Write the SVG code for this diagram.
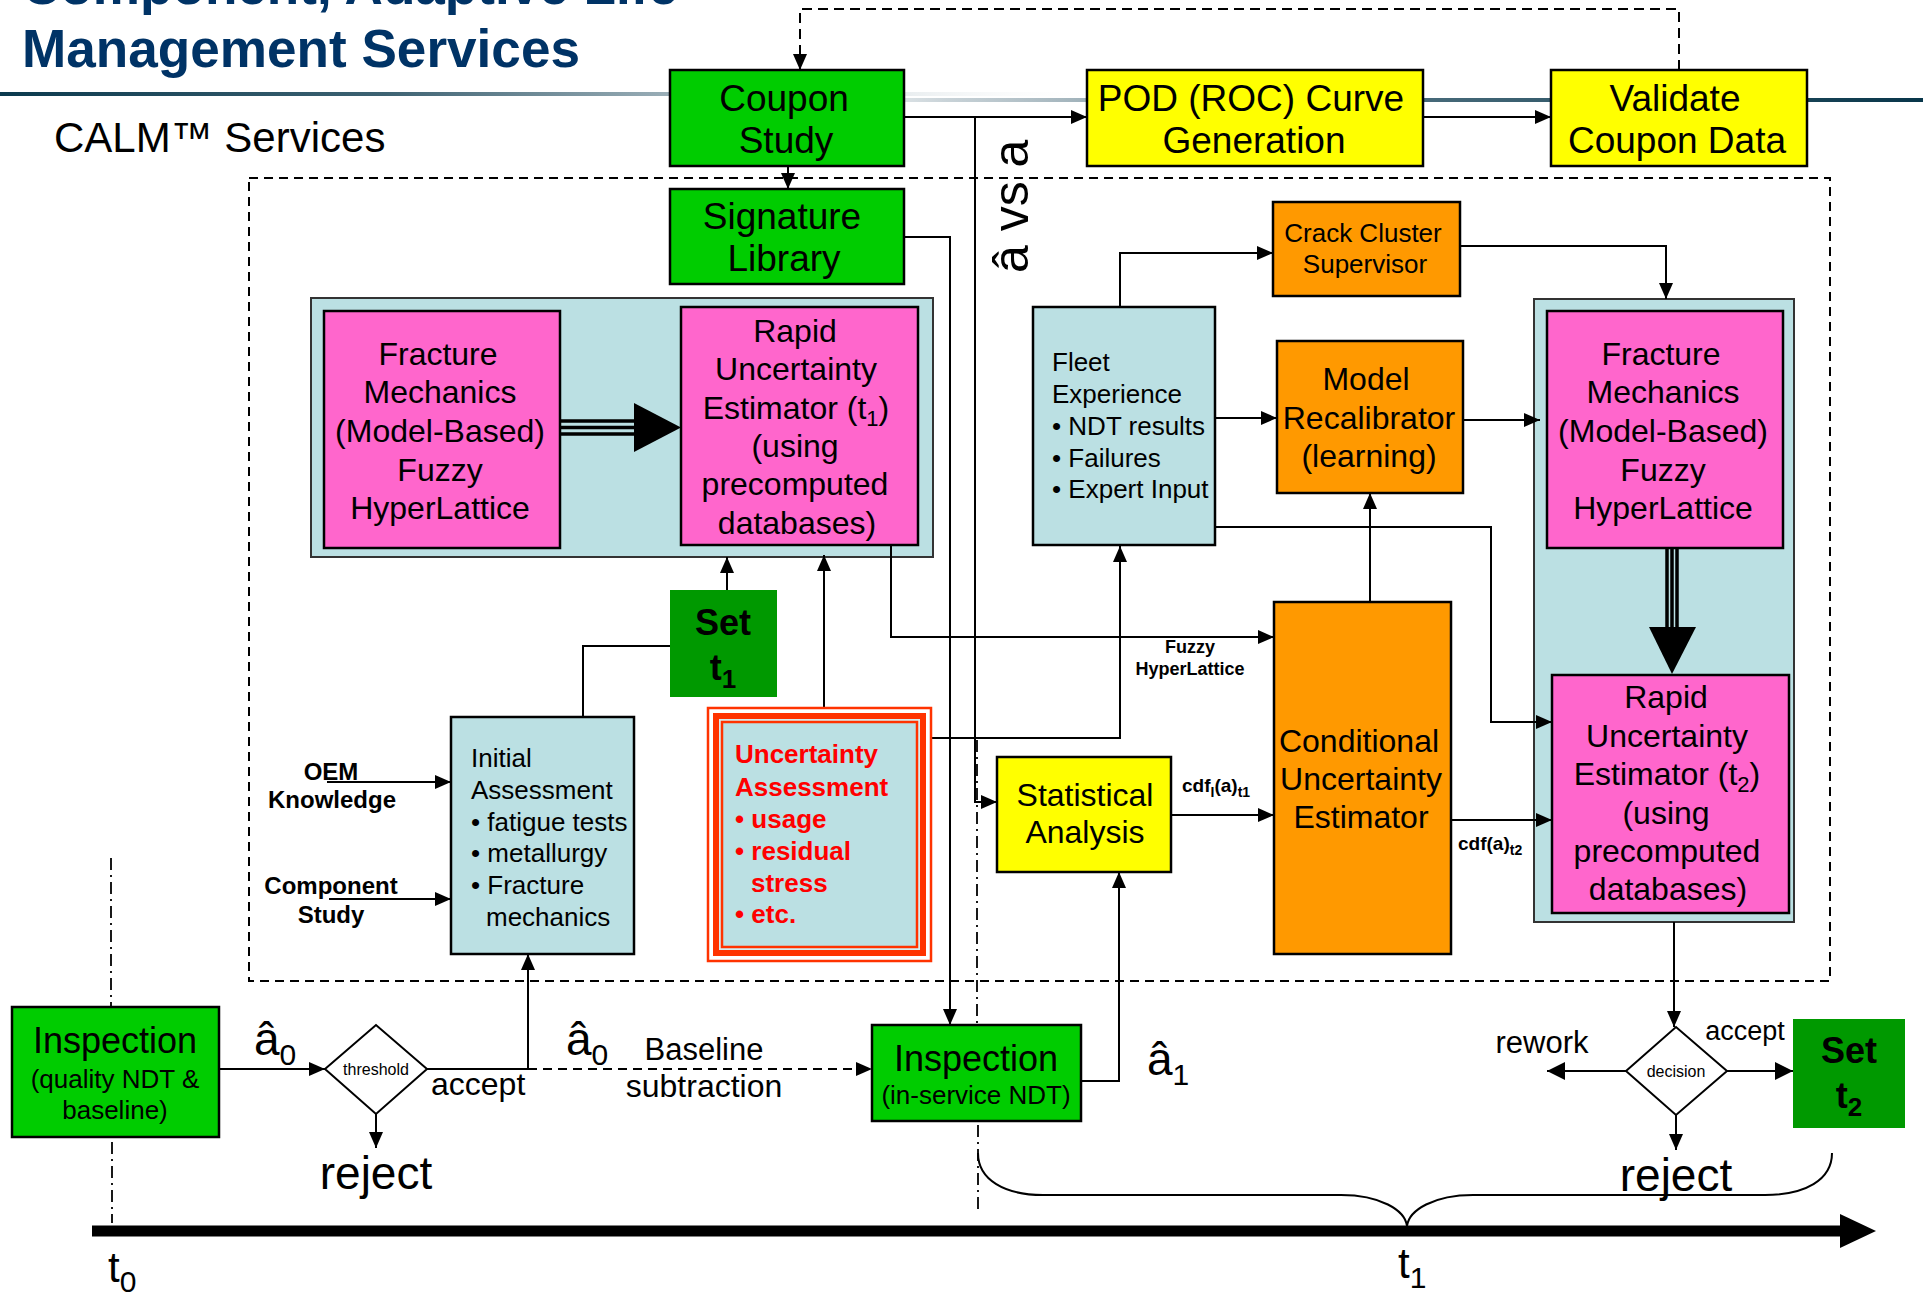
<svg xmlns="http://www.w3.org/2000/svg" width="1923" height="1299" viewBox="0 0 1923 1299">
<defs>
<linearGradient id="ruleA" x1="0" y1="0" x2="1100" y2="0" gradientUnits="userSpaceOnUse">
<stop offset="0" stop-color="#0b3a4e"/>
<stop offset="0.35" stop-color="#3d6272"/>
<stop offset="0.65" stop-color="#a9bac2"/>
<stop offset="1" stop-color="#ffffff" stop-opacity="0"/>
</linearGradient>
<linearGradient id="ruleB" x1="700" y1="0" x2="1923" y2="0" gradientUnits="userSpaceOnUse">
<stop offset="0" stop-color="#ffffff" stop-opacity="0"/>
<stop offset="0.2" stop-color="#c9d3d8"/>
<stop offset="0.55" stop-color="#4d6f7e"/>
<stop offset="1" stop-color="#08364a"/>
</linearGradient>
<marker id="ah" viewBox="0 0 16 14" refX="16" refY="7" markerWidth="16" markerHeight="14" markerUnits="userSpaceOnUse" orient="auto"><path d="M0,0 L16,7 L0,14 z" fill="#000"/></marker>
<marker id="ahb" viewBox="0 0 18 18" refX="18" refY="9" markerWidth="18" markerHeight="18" markerUnits="userSpaceOnUse" orient="auto"><path d="M0,0 L18,9 L0,18 z" fill="#000"/></marker>
</defs>
<style>
text { font-family: "Liberation Sans", Arial, sans-serif; fill: #000; }
.c { text-anchor: middle; }
.b { font-weight: bold; }
.box { stroke: #000; stroke-width: 2.5; }
.green { fill: #00cc00; }
.dgreen { fill: #009900; }
.yellow { fill: #ffff00; }
.orange { fill: #ff9900; }
.pink { fill: #ff66cc; }
.lblue { fill: #bbe0e3; }
.cont { fill: #bbe0e3; stroke: #333; stroke-width: 2; }
.f37 { font-size: 37px; }
.f32 { font-size: 32px; }
.f26 { font-size: 26px; }
.red { fill: #ff0000; font-weight: bold; font-size: 26px; }
.conn { fill: none; stroke: #000; stroke-width: 2; }
.arr { marker-end: url(#ah); }
.dash { stroke-dasharray: 9 6; }
.dashdot { fill: none; stroke: #000; stroke-width: 1.8; stroke-dasharray: 12 5 2 5; }
</style>

<g id="header">
<text x="22" y="4" font-size="54" font-weight="bold" style="fill:#003366" textLength="656" lengthAdjust="spacingAndGlyphs">Component, Adaptive Life</text>
<text x="22" y="67" font-size="54" font-weight="bold" style="fill:#003366" textLength="558" lengthAdjust="spacingAndGlyphs">Management Services</text>
<rect x="0" y="92" width="1100" height="4" fill="url(#ruleA)"/>
<rect x="700" y="98" width="1223" height="4" fill="url(#ruleB)"/>
<text x="54" y="152" font-size="42">CALM™ Services</text>
</g>

<rect id="services-frame" x="249" y="178" width="1581" height="803" fill="none" stroke="#000" stroke-width="2" stroke-dasharray="9 6"/>

<g id="containers">
<rect x="311" y="298" width="622" height="259" class="cont"/>
<rect x="1534" y="299" width="260" height="623" class="cont"/>
</g>

<g id="connectors">
<path class="conn arr" d="M904,117 H1087"/>
<path class="conn arr" d="M1423,117 H1551"/>
<path class="conn arr" d="M1679,70 V9 H800 V70" stroke-dasharray="10 6"/>
<path class="conn arr" d="M788,166 V189"/>
<path class="conn arr" d="M904,237 H950 V1025"/>
<path class="conn arr" d="M975,118 V802 H997"/>
<path class="conn arr" d="M727,590 V557"/>
<path class="conn" d="M583,717 V646 H670"/>
<path class="conn arr" d="M824,709 V555"/>
<path class="conn arr" d="M891,545 V637 H1274"/>
<path class="conn arr" d="M922,738 H1120 V546"/>
<path class="conn arr" d="M1120,307 V253 H1273"/>
<path class="conn arr" d="M1460,246 H1666 V299"/>
<path class="conn arr" d="M1215,418 H1277"/>
<path class="conn arr" d="M1463,420 H1540"/>
<path class="conn arr" d="M1370,602 V493"/>
<path class="conn arr" d="M1213,527 H1491 V722 H1552"/>
<path class="conn arr" d="M1171,815 H1274"/>
<path class="conn arr" d="M1451,820 H1552"/>
<path class="conn arr" d="M1081,1081 H1119 V872"/>
<path class="conn arr" d="M327,782 H451"/>
<path class="conn arr" d="M329,899 H451"/>
<path class="conn arr" d="M219,1069 H325"/>
<path class="conn arr" d="M376,1114 V1148"/>
<path class="conn arr" d="M427,1069 H528 V954"/>
<path class="conn arr dash" d="M528,1069 H872"/>
<path class="conn arr" d="M1674,922 V1027"/>
<path class="conn" stroke-width="3" marker-end="url(#ahb)" d="M1626,1071 H1547"/>
<path class="conn" stroke-width="4" marker-end="url(#ahb)" d="M1727,1071 H1793"/>
<path class="conn arr" d="M1676,1115 V1150"/>
<g id="triple-left">
<path d="M560,421 H640 M560,427.5 H640 M560,434 H640" stroke="#000" stroke-width="3.5" fill="none"/>
<polygon points="634,403 681,427.5 634,452" fill="#000"/>
</g>
<g id="triple-right">
<path d="M1667,548 V632 M1672,548 V632 M1677,548 V632" stroke="#000" stroke-width="3.5" fill="none"/>
<polygon points="1649,627 1672,674 1696,627" fill="#000"/>
</g>
<path d="M92,1231 H1842" stroke="#000" stroke-width="11" fill="none"/>
<polygon points="1840,1214 1876,1231 1840,1248" fill="#000"/>
<path class="dashdot" d="M111,858 V1007 M112,1142 V1223"/>
<path class="dashdot" d="M977,740 V1025 M978,1125 V1210"/>
<path class="conn" d="M978,1153 C978,1180 1005,1195 1043,1195 H1341 C1380,1195 1405,1210 1407,1226 C1409,1210 1434,1195 1473,1195 H1765 C1805,1195 1832,1180 1832,1153"/>
</g>

<g id="coupon-study">
<rect x="670" y="70" width="234" height="96" class="box green"/>
<text x="784" y="111" class="c f37">Coupon</text>
<text x="786" y="153" class="c f37">Study</text>
</g>
<g id="pod-curve">
<rect x="1087" y="70" width="336" height="96" class="box yellow"/>
<text x="1251" y="111" class="c f37">POD (ROC) Curve</text>
<text x="1254" y="153" class="c f37">Generation</text>
</g>
<g id="validate">
<rect x="1551" y="70" width="256" height="96" class="box yellow"/>
<text x="1675" y="111" class="c f37">Validate</text>
<text x="1677" y="153" class="c f37">Coupon Data</text>
</g>
<g id="signature-library">
<rect x="670" y="189" width="234" height="95" class="box green"/>
<text x="782" y="229" class="c f37">Signature</text>
<text x="784" y="271" class="c f37">Library</text>
</g>
<g id="fracture-left">
<rect x="324" y="311" width="236" height="237" class="box pink"/>
<text class="c f32"><tspan x="438" y="365">Fracture</tspan><tspan x="440" y="403">Mechanics</tspan><tspan x="440" y="442">(Model-Based)</tspan><tspan x="440" y="481">Fuzzy</tspan><tspan x="440" y="519">HyperLattice</tspan></text>
</g>
<g id="rapid-t1">
<rect x="681" y="307" width="237" height="238" class="box pink"/>
<text class="c f32"><tspan x="795" y="342">Rapid</tspan><tspan x="796" y="380">Uncertainty</tspan><tspan x="796" y="419">Estimator (t<tspan font-size="22" dy="7">1</tspan><tspan dy="-7">)</tspan></tspan><tspan x="795" y="457">(using</tspan><tspan x="795" y="495">precomputed</tspan><tspan x="797" y="534">databases)</tspan></text>
</g>
<g id="set-t1">
<rect x="670" y="590" width="107" height="107" class="dgreen"/>
<text x="723" y="635" class="c b" font-size="36">Set</text>
<text x="723" y="680" class="c b" font-size="36">t<tspan font-size="26" dy="8">1</tspan></text>
</g>
<g id="initial-assessment">
<rect x="451" y="717" width="183" height="237" class="box lblue"/>
<text class="f26"><tspan x="471" y="767">Initial</tspan><tspan x="471" y="799">Assessment</tspan><tspan x="471" y="831">• fatigue tests</tspan><tspan x="471" y="862">• metallurgy</tspan><tspan x="471" y="894">• Fracture</tspan><tspan x="486" y="926">mechanics</tspan></text>
</g>
<g id="uncertainty-assessment">
<rect x="708" y="708" width="223" height="253" fill="#fff" stroke="#ff3300" stroke-width="2.5"/>
<rect x="713" y="713" width="213" height="243" fill="#ff3300"/>
<rect x="719" y="719" width="201" height="231" fill="#d6eef0"/>
<rect x="722" y="722" width="195" height="225" fill="#bbe0e3" stroke="#ff3300" stroke-width="2.5"/>
<text class="red"><tspan x="735" y="763">Uncertainty</tspan><tspan x="735" y="796">Assessment</tspan><tspan x="735" y="828">• usage</tspan><tspan x="735" y="860">• residual</tspan><tspan x="751" y="892">stress</tspan><tspan x="735" y="923">• etc.</tspan></text>
</g>
<g id="fleet-experience">
<rect x="1033" y="307" width="182" height="238" class="box lblue"/>
<text class="f26"><tspan x="1052" y="371">Fleet</tspan><tspan x="1052" y="403">Experience</tspan><tspan x="1052" y="435">• NDT results</tspan><tspan x="1052" y="467">• Failures</tspan><tspan x="1052" y="498">• Expert Input</tspan></text>
</g>
<g id="crack-cluster">
<rect x="1273" y="202" width="187" height="94" class="box orange"/>
<text x="1363" y="242" class="c f26">Crack Cluster</text>
<text x="1365" y="273" class="c f26">Supervisor</text>
</g>
<g id="model-recalibrator">
<rect x="1277" y="341" width="186" height="152" class="box orange"/>
<text x="1366" y="390" class="c f32">Model</text>
<text x="1369" y="429" class="c f32">Recalibrator</text>
<text x="1369" y="467" class="c f32">(learning)</text>
</g>
<g id="fracture-right">
<rect x="1547" y="311" width="236" height="237" class="box pink"/>
<text class="c f32"><tspan x="1661" y="365">Fracture</tspan><tspan x="1663" y="403">Mechanics</tspan><tspan x="1663" y="442">(Model-Based)</tspan><tspan x="1663" y="481">Fuzzy</tspan><tspan x="1663" y="519">HyperLattice</tspan></text>
</g>
<g id="rapid-t2">
<rect x="1552" y="675" width="237" height="238" class="box pink"/>
<text class="c f32"><tspan x="1666" y="708">Rapid</tspan><tspan x="1667" y="747">Uncertainty</tspan><tspan x="1667" y="785">Estimator (t<tspan font-size="22" dy="7">2</tspan><tspan dy="-7">)</tspan></tspan><tspan x="1666" y="824">(using</tspan><tspan x="1667" y="862">precomputed</tspan><tspan x="1668" y="900">databases)</tspan></text>
</g>
<g id="conditional-estimator">
<rect x="1274" y="602" width="177" height="352" class="box orange"/>
<text x="1359" y="752" class="c f32">Conditional</text>
<text x="1361" y="790" class="c f32">Uncertainty</text>
<text x="1361" y="828" class="c f32">Estimator</text>
</g>
<g id="statistical-analysis">
<rect x="997" y="757" width="174" height="115" class="box yellow"/>
<text x="1085" y="806" class="c f32">Statistical</text>
<text x="1085" y="843" class="c f32">Analysis</text>
</g>
<g id="inspection-quality">
<rect x="12" y="1007" width="207" height="130" class="box green"/>
<text x="115" y="1053" class="c" font-size="36">Inspection</text>
<text x="115" y="1088" class="c f26">(quality NDT &amp;</text>
<text x="115" y="1119" class="c f26">baseline)</text>
</g>
<g id="inspection-inservice">
<rect x="872" y="1025" width="209" height="96" class="box green"/>
<text x="976" y="1071" class="c" font-size="36">Inspection</text>
<text x="976" y="1104" class="c f26">(in-service NDT)</text>
</g>
<g id="threshold">
<polygon points="325,1069 376,1025 427,1069 376,1114" fill="#fff" stroke="#000" stroke-width="2"/>
<text x="376" y="1075" class="c" font-size="16">threshold</text>
</g>
<g id="decision">
<polygon points="1626,1071 1676,1027 1727,1071 1676,1115" fill="#fff" stroke="#000" stroke-width="2"/>
<text x="1676" y="1077" class="c" font-size="16">decision</text>
</g>
<g id="set-t2">
<rect x="1793" y="1019" width="112" height="109" class="dgreen"/>
<text x="1849" y="1063" class="c b" font-size="36">Set</text>
<text x="1849" y="1108" class="c b" font-size="36">t<tspan font-size="26" dy="8">2</tspan></text>
</g>

<g id="labels">
<text x="331" y="780" class="c b" font-size="24">OEM</text>
<text x="332" y="808" class="c b" font-size="24">Knowledge</text>
<text x="331" y="894" class="c b" font-size="24">Component</text>
<text x="331" y="923" class="c b" font-size="24">Study</text>
<text x="1190" y="653" class="c b" font-size="18">Fuzzy</text>
<text x="1190" y="675" class="c b" font-size="18">HyperLattice</text>
<text x="1182" y="792" class="b" font-size="19">cdf<tspan font-size="14" dy="5">I</tspan><tspan dy="-5">(a)</tspan><tspan font-size="14" dy="5">t1</tspan></text>
<text x="1458" y="850" class="b" font-size="19">cdf(a)<tspan font-size="14" dy="5">t2</tspan></text>
<text x="254" y="1055" font-size="46">â<tspan font-size="30" dy="10">0</tspan></text>
<text x="566" y="1055" font-size="46">â<tspan font-size="30" dy="10">0</tspan></text>
<text x="1147" y="1075" font-size="46">â<tspan font-size="30" dy="10">1</tspan></text>
<text x="431" y="1095" font-size="32">accept</text>
<text x="704" y="1060" class="c" font-size="31">Baseline</text>
<text x="704" y="1097" class="c" font-size="32">subtraction</text>
<text x="376" y="1189" class="c" font-size="46">reject</text>
<text x="1676" y="1191" class="c" font-size="46">reject</text>
<text x="1542" y="1053" class="c" font-size="31">rework</text>
<text x="1745" y="1040" class="c" font-size="27">accept</text>
<text x="0" y="0" font-size="50" transform="translate(1028 273) rotate(-90)">â vs a</text>
<text x="108" y="1282" font-size="42">t<tspan font-size="30" dy="10">0</tspan></text>
<text x="1398" y="1278" font-size="42">t<tspan font-size="30" dy="10">1</tspan></text>
</g>
</svg>
